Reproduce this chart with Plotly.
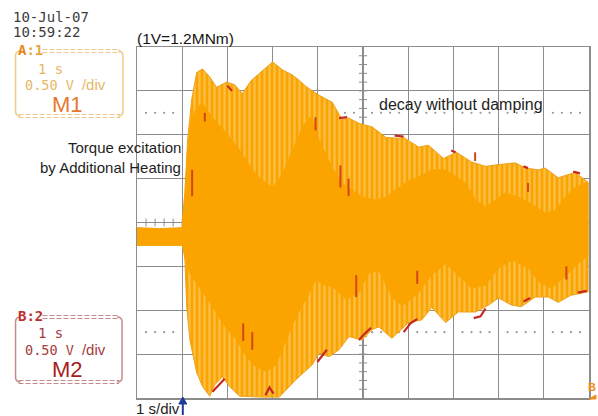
import plotly.graph_objects as go

# ---------------- data (time in s at 1 s/div, voltage in V at 0.50 V/div) -------------
m1_up_out_t = [0, 0.5, 1.0, 1.01, 1.06, 1.12, 1.21, 1.32, 1.45, 1.61, 1.76, 1.98, 2.16, 2.33, 2.53,
               2.71, 3.0, 3.22, 3.44, 3.59, 3.74, 3.88, 4.03, 4.32, 4.54, 4.69, 4.91, 5.2, 5.51,
               5.79, 5.9, 6.23, 6.45, 6.78, 7.07, 7.4, 7.71, 8.0, 8.37, 8.6, 8.88, 9.03, 9.32,
               9.69, 9.98]
m1_up_out_v = [-0.06, -0.07, -0.06, 0.05, 0.34, 0.94, 1.40, 1.71, 1.75, 1.66, 1.54, 1.60, 1.57,
               1.47, 1.62, 1.70, 1.83, 1.74, 1.68, 1.62, 1.55, 1.50, 1.45, 1.37, 1.17, 1.19, 1.13,
               1.09, 0.97, 0.96, 0.97, 0.86, 0.88, 0.73, 0.80, 0.69, 0.64, 0.66, 0.68, 0.62, 0.60,
               0.62, 0.51, 0.57, 0.46]

m1_lo_out_t = [0, 0.5, 1.0, 1.03, 1.06, 1.1, 1.17, 1.32, 1.45, 1.61, 1.72, 1.89, 2.05, 2.27, 2.78,
               3.15, 3.52, 3.88, 4.03, 4.25, 4.47, 4.69, 4.98, 5.2, 5.35, 5.64, 6.01, 6.3, 6.52,
               6.83, 7.11, 7.49, 7.78, 8.0, 8.28, 8.5, 8.81, 9.1, 9.32, 9.6, 9.98]
m1_lo_out_v = [-0.26, -0.26, -0.26, -0.30, -0.43, -0.96, -1.34, -1.71, -1.87, -1.98, -1.85, -1.76,
               -1.87, -1.98, -1.99, -1.99, -1.79, -1.62, -1.49, -1.53, -1.45, -1.30, -1.34, -1.22,
               -1.19, -1.32, -1.14, -1.11, -0.97, -1.14, -1.02, -1.02, -0.94, -0.86, -0.94, -0.96,
               -0.85, -0.85, -0.91, -0.83, -0.79]

m1_up_in_t = [0, 0.5, 1.0, 1.05, 1.17, 1.32, 1.45, 1.67, 1.98, 2.27, 2.56, 2.78, 3.0, 3.22, 3.44,
              3.66, 3.81, 3.92, 4.03, 4.32, 4.54, 4.76, 4.98, 5.29, 5.51, 5.79, 6.01, 6.23, 6.52,
              6.83, 6.96, 7.27, 7.49, 7.71, 7.93, 8.15, 8.44, 8.72, 9.03, 9.25, 9.47, 9.69, 9.91,
              9.98]
m1_up_in_v = [-0.06, -0.07, -0.06, 0.30, 1.13, 1.32, 1.36, 1.20, 1.02, 0.83, 0.60, 0.48, 0.40,
              0.56, 0.83, 1.09, 1.20, 1.15, 0.94, 0.63, 0.45, 0.37, 0.29, 0.26, 0.29, 0.40, 0.48,
              0.52, 0.60, 0.60, 0.56, 0.45, 0.26, 0.18, 0.26, 0.34, 0.29, 0.22, 0.11, 0.14, 0.29,
              0.40, 0.45, 0.45]

m1_lo_in_t = [0, 0.5, 1.0, 1.06, 1.17, 1.45, 1.67, 1.89, 2.2, 2.42, 2.64, 2.86, 3.08, 3.3, 3.52,
              3.74, 3.96, 4.1, 4.32, 4.63, 4.91, 5.13, 5.35, 5.64, 5.86, 6.01, 6.23, 6.52, 6.83,
              7.1, 7.4, 7.7, 8.0, 8.3, 8.66, 8.9, 9.16, 9.47, 9.76, 9.98]
m1_lo_in_v = [-0.26, -0.26, -0.26, -0.40, -0.58, -0.80, -0.96, -1.15, -1.34, -1.53, -1.65, -1.70,
              -1.62, -1.34, -1.08, -0.88, -0.65, -0.71, -0.73, -0.88, -0.80, -0.58, -0.55, -0.85,
              -0.95, -0.90, -0.80, -0.60, -0.47, -0.60, -0.75, -0.72, -0.52, -0.43, -0.52, -0.68,
              -0.75, -0.62, -0.47, -0.38]

# M2 (dark red) trace: only the parts that show outside M1
m2_edge_t = [1.67, 1.80, 1.94, None, 2.84, 2.93, 3.02, None, 3.99, 4.10, 4.20, None,
             4.91, 5.05, 5.18, None, 5.90, 6.05, 6.20, None, 7.45, 7.60, 7.71, None,
             8.55, 8.70, None, 9.75, 9.95, None,
             2.00, 2.10, None, 4.47, 4.65, None, 5.70, 5.90, None, 6.95, 7.05, None,
             8.55, 8.65, None, 9.65, 9.80]
m2_edge_v = [-1.93, -1.86, -1.78, None, -1.97, -1.88, -1.95, None, -1.59, -1.52, -1.45, None,
             -1.34, -1.26, -1.20, None, -1.25, -1.15, -1.10, None, -1.09, -1.07, -0.98, None,
             -0.90, -0.86, None, -0.80, -0.78, None,
             1.56, 1.50, None, 1.19, 1.20, None, 0.99, 0.98, None, 0.82, 0.80, None,
             0.64, 0.62, None, 0.58, 0.56]
m2_dash_t = [1.22, 1.22, None, 1.50, 1.50, None, 4.50, 4.50, None, 4.68, 4.68, None,
             7.48, 7.48, None, 8.65, 8.65, None, 2.35, 2.35, None, 2.55, 2.55, None,
             4.85, 4.85, None, 6.20, 6.20, None, 9.50, 9.50, None, 3.95, 3.95]
m2_dash_v = [0.30, 0.60, None, 1.15, 1.25, None, 0.65, 0.40, None, 0.50, 0.30, None,
             0.80, 0.70, None, 0.45, 0.35, None, -1.15, -1.35, None, -1.25, -1.45, None,
             -0.60, -0.85, None, -0.55, -0.70, None, -0.50, -0.65, None, 1.20, 1.05]
m2_pre_t = [0.0, 0.98]
m2_pre_v = [-0.245, -0.245]

# display constants
X_DIVS, Y_DIVS = 10, 8
S_PER_DIV, V_PER_DIV = 1.0, 0.5
REF_V = 1.25           # dotted reference lines at +/- 2.5 div

# ---------------- layout geometry (pixels) ----------------
W, H = 598, 416
L, R, T, B = 137, 591, 47, 398

def px(x):
    return (x - L) / (R - L)

def py(y):
    return (B - y) / (B - T)

ORANGE = "#FBA400"
PALE = "#F8DA8E"
GRID = "#8c8c8c"
MONO = "DejaVu Sans Mono"
SANS = "Liberation Sans"

fig = go.Figure()

# center tick marks and dotted reference lines (drawn first, under the signal)
tx, ty = [], []
n_minor_x = X_DIVS * 5
for k in range(1, n_minor_x):
    x = k * S_PER_DIV / 5
    tx += [x, x, None]
    ty += [-0.045, 0.045, None]
n_minor_y = Y_DIVS * 5
xc = X_DIVS / 2 * S_PER_DIV
for k in range(1, n_minor_y):
    y = -Y_DIVS / 2 * V_PER_DIV + k * V_PER_DIV / 5
    tx += [xc - 0.09, xc + 0.09, None]
    ty += [y, y, None]
fig.add_trace(go.Scatter(x=tx, y=ty, mode="lines", line=dict(color=GRID, width=1),
                         hoverinfo="skip", showlegend=False))
dx, dy = [], []
for k in range(1, n_minor_x):
    if k % 5:
        for s in (1, -1):
            dx.append(k * S_PER_DIV / 5)
            dy.append(s * REF_V)
fig.add_trace(go.Scatter(x=dx, y=dy, mode="markers",
                         marker=dict(color="#9a9a9a", size=2.2), hoverinfo="skip",
                         showlegend=False))

# M2 pre-excitation trace (below M1)
fig.add_trace(go.Scatter(x=m2_pre_t, y=m2_pre_v, mode="lines",
                         line=dict(color="#C8281E", width=2.2, dash="dot"),
                         showlegend=False, hoverinfo="skip"))

# M1 outer envelope (aliased striped band)
fig.add_trace(go.Scatter(
    x=m1_up_out_t + m1_lo_out_t[::-1], y=m1_up_out_v + m1_lo_out_v[::-1],
    mode="lines", fill="toself", line=dict(color="#EDA21C", width=1),
    fillcolor=ORANGE,
    fillpattern=dict(shape="|", size=5, solidity=0.45, fgcolor=PALE, bgcolor=ORANGE),
    showlegend=False, hoverinfo="skip"))

# M1 solid core
fig.add_trace(go.Scatter(
    x=m1_up_in_t + m1_lo_in_t[::-1], y=m1_up_in_v + m1_lo_in_v[::-1],
    mode="lines", fill="toself", line=dict(color=ORANGE, width=0.5),
    fillcolor=ORANGE, showlegend=False, hoverinfo="skip"))

# M2 visible bits
fig.add_trace(go.Scatter(x=m2_edge_t, y=m2_edge_v, mode="lines",
                         line=dict(color="#C42A22", width=2.2),
                         showlegend=False, hoverinfo="skip"))
fig.add_trace(go.Scatter(x=m2_dash_t, y=m2_dash_v, mode="lines",
                         line=dict(color="#D2461E", width=2),
                         showlegend=False, hoverinfo="skip"))

fig.update_xaxes(range=[0, X_DIVS * S_PER_DIV], dtick=S_PER_DIV, showgrid=True,
                 gridcolor=GRID, gridwidth=1.2, zeroline=False, showticklabels=False,
                 showline=True, linecolor=GRID, linewidth=1.5, mirror=True, ticks="",
                 fixedrange=True)
fig.update_yaxes(range=[-Y_DIVS / 2 * V_PER_DIV, Y_DIVS / 2 * V_PER_DIV], dtick=V_PER_DIV,
                 showgrid=True, gridcolor=GRID, gridwidth=1.2, zeroline=False,
                 showticklabels=False, showline=True, linecolor=GRID, linewidth=1.5,
                 mirror=True, ticks="", fixedrange=True)

ann = []

def text(x, y, s, size, color, family=SANS, xanchor="left", **kw):
    ann.append(dict(x=px(x), y=py(y), xref="paper", yref="paper", text=s, showarrow=False,
                    xanchor=xanchor, yanchor="middle", borderpad=0,
                    font=dict(size=size, color=color, family=family), **kw))

# date / time
text(11, 17, "10-Jul-07", 14, "#3c3c3c", MONO)
text(11, 32, "10:59:22", 14, "#3c3c3c", MONO)
text(136, 38, "(1V=1.2MNm)", 15.5, "#141414")

# channel A box
text(16, 50, "<b><span style='color:#E8861C'>A</span><span style='color:#E9A640'>:1</span></b>",
     14, "#E9A640", MONO)
text(37, 69, "1 s", 14, "#E6B865", MONO)
text(24, 84, "0.50 V <span style='font-family:Liberation Sans;font-size:15px'>/div</span>",
     13.5, "#E6B865", MONO)
text(67, 104, "M1", 22, "#E6772E", xanchor="center")

# channel B box
text(16, 316, "<b><span style='color:#C0302C'>B</span><span style='color:#B83030'>:2</span></b>",
     14, "#B83030", MONO)
text(37, 333, "1 s", 14, "#A33C3C", MONO)
text(24, 349, "0.50 V <span style='font-family:Liberation Sans;font-size:15px'>/div</span>",
     13.5, "#A33C3C", MONO)
text(67, 369, "M2", 22, "#A61E1E", xanchor="center")

# captions
text(182, 147.5, "Torque excitation", 15, "#1e1e1e", xanchor="right")
text(182, 167, "by Additional Heating", 15, "#1e1e1e", xanchor="right")
text(379, 104, "decay without damping", 16, "#1e1e1e")
text(135, 408, "1 s/div", 15, "#1e1e1e")
text(589, 387, "<b>B</b>", 11, "#EE8A1A")

shapes = []

def box(x0, y0, x1, y1, hx, color):
    r = 5
    for xs, sgn in ((x0, 1), (x1, -1)):
        path = (f"M {px(xs + sgn * r)},{py(y0)} Q {px(xs)},{py(y0)} {px(xs)},{py(y0 + r)} "
                f"L {px(xs)},{py(y1 - r)} Q {px(xs)},{py(y1)} {px(xs + sgn * r)},{py(y1)}")
        shapes.append(dict(type="path", path=path, xref="paper", yref="paper",
                           line=dict(color=color, width=1.5)))
    # double dashed top (after the header) and bottom borders
    for (a, b, yy) in ((hx, x1 - 3, y0), (x0 + 3, x1 - 3, y1)):
        for d in (-1.5, 1.5):
            shapes.append(dict(type="line", xref="paper", yref="paper",
                               x0=px(a), x1=px(b), y0=py(yy + d), y1=py(yy + d),
                               line=dict(color=color, width=1.2, dash="5px,2px")))

box(15, 51, 123, 116, 42, "#EDCB8C")
box(15, 317, 122, 382, 42, "#C58A8A")

# trigger arrow
shapes.append(dict(type="line", xref="paper", yref="paper", x0=px(183), x1=px(183),
                   y0=py(415), y1=py(402), line=dict(color="#1E3C96", width=2)))
shapes.append(dict(type="path", xref="paper", yref="paper",
                   path=f"M {px(179)},{py(404)} L {px(183)},{py(397)} L {px(187)},{py(404)} Z",
                   fillcolor="#1E3C96", line=dict(color="#1E3C96", width=1)))
shapes.append(dict(type="path", xref="paper", yref="paper",
                   path=f"M {px(591)},{py(399)} L {px(598)},{py(395)} L {px(598)},{py(399)} Z",
                   fillcolor="#EE8A1A", line=dict(color="#EE8A1A", width=1)))

fig.update_layout(width=W, height=H, margin=dict(l=L, r=W - R, t=T, b=H - B),
                  paper_bgcolor="white", plot_bgcolor="white", showlegend=False,
                  annotations=ann, shapes=shapes)

fig.write_html("out.html", config={"displayModeBar": False, "staticPlot": True},
               post_script="document.body.style.margin='0';document.body.style.padding='0';")
